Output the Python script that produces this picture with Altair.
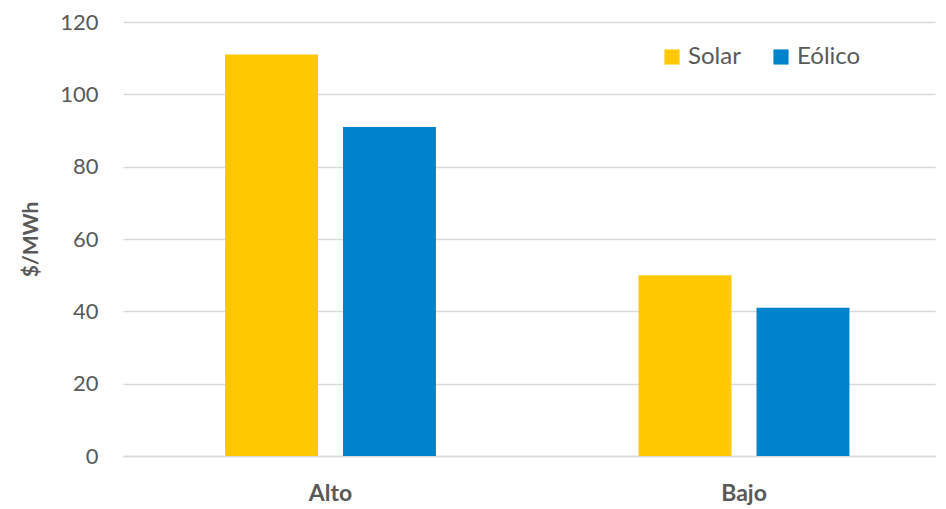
import altair as alt
import pandas as pd

categories = ["Alto", "Alto", "Bajo", "Bajo"]
series = ["Solar", "Eólico", "Solar", "Eólico"]
values = [111, 91, 50, 41]

df = pd.DataFrame({"cat": categories, "serie": series, "valor": values})

FONT = "Lato"
GRAY = "#595959"

chart = alt.Chart(df).mark_bar().encode(
    x=alt.X("cat:N", sort=["Alto", "Bajo"],
            scale=alt.Scale(paddingInner=0.49, paddingOuter=0.2268, align=0.544),
            axis=alt.Axis(title=None, labelAngle=0, labelFontSize=23, labelFontWeight="bold",
                          labelColor=GRAY, labelFont=FONT, labelPadding=26,
                          ticks=False, domainColor="#d9d9d9", domainWidth=1.5)),
    xOffset=alt.XOffset("serie:N", sort=["Solar", "Eólico"],
                        scale=alt.Scale(paddingInner=0.212, paddingOuter=0)),
    y=alt.Y("valor:Q", scale=alt.Scale(domain=[0, 120]),
            axis=alt.Axis(title="$/MWh", values=[0, 20, 40, 60, 80, 100, 120],
                          labelFontSize=22, labelColor=GRAY, labelFont=FONT,
                          labelPadding=25, ticks=False, domain=False,
                          gridColor="#d9d9d9", gridWidth=1.5,
                          titleFontSize=21, titleFontWeight="bold", titleColor=GRAY,
                          titleFont=FONT, titlePadding=18)),
    color=alt.Color("serie:N", sort=["Solar", "Eólico"],
                    scale=alt.Scale(domain=["Solar", "Eólico"], range=["#FFC800", "#0083CC"]),
                    legend=alt.Legend(title=None, orient="none", legendX=537, legendY=23,
                                      direction="horizontal", symbolType="square",
                                      symbolSize=230, symbolStrokeWidth=0,
                                      labelFontSize=24, labelColor=GRAY, labelFont=FONT,
                                      labelOffset=4, columnPadding=28)),
).properties(
    width=812, height=434,
    autosize=alt.AutoSizeParams(type="none"),
    padding={"left": 115, "top": 14, "right": 3, "bottom": 50},
).configure_view(stroke=None)

chart.save("out.html", embed_options={"renderer": "svg", "actions": False})
